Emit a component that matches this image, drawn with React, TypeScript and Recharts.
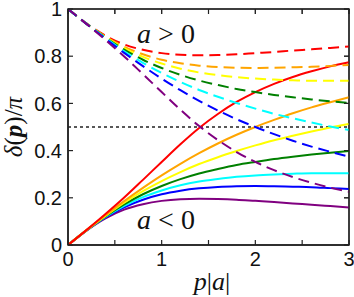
import { LineChart, Line, XAxis, YAxis, ReferenceLine, Customized } from "recharts"

// p|a| sample points
const pa = [0, 0.2, 0.4, 0.6, 0.8, 1.0, 1.2, 1.4, 1.6, 1.8, 2.0, 2.2, 2.4, 2.6, 2.8, 3.0]

// a < 0 (solid)
const solidRed = [0, 0.064, 0.131, 0.201, 0.276, 0.352, 0.427, 0.496, 0.555, 0.606, 0.648, 0.683, 0.712, 0.736, 0.757, 0.774]
const solidOrange = [0, 0.064, 0.126, 0.186, 0.242, 0.295, 0.344, 0.389, 0.43, 0.467, 0.5, 0.53, 0.558, 0.583, 0.605, 0.626]
const solidYellow = [0, 0.063, 0.123, 0.179, 0.228, 0.271, 0.309, 0.343, 0.372, 0.398, 0.422, 0.444, 0.463, 0.481, 0.498, 0.513]
const solidGreen = [0, 0.063, 0.121, 0.172, 0.215, 0.25, 0.279, 0.303, 0.322, 0.339, 0.352, 0.364, 0.374, 0.383, 0.391, 0.398]
const solidCyan = [0, 0.063, 0.119, 0.166, 0.203, 0.231, 0.253, 0.269, 0.28, 0.289, 0.295, 0.299, 0.302, 0.304, 0.304, 0.304]
const solidBlue = [0, 0.062, 0.117, 0.16, 0.192, 0.215, 0.23, 0.24, 0.246, 0.249, 0.25, 0.249, 0.247, 0.245, 0.241, 0.237]
const solidPurple = [0, 0.062, 0.113, 0.15, 0.173, 0.187, 0.194, 0.196, 0.195, 0.192, 0.187, 0.182, 0.176, 0.171, 0.165, 0.159]

// a > 0 (dashed)
const dashRed = [1, 0.938, 0.887, 0.85, 0.827, 0.813, 0.806, 0.804, 0.805, 0.808, 0.813, 0.818, 0.824, 0.829, 0.835, 0.841]
const dashOrange = [1, 0.938, 0.883, 0.84, 0.808, 0.785, 0.77, 0.76, 0.754, 0.751, 0.75, 0.751, 0.753, 0.755, 0.759, 0.763]
const dashYellow = [1, 0.937, 0.881, 0.834, 0.797, 0.769, 0.747, 0.731, 0.72, 0.711, 0.705, 0.701, 0.698, 0.696, 0.696, 0.696]
const dashGreen = [1, 0.937, 0.879, 0.828, 0.785, 0.75, 0.721, 0.697, 0.678, 0.661, 0.648, 0.636, 0.626, 0.617, 0.609, 0.602]
const dashCyan = [1, 0.937, 0.877, 0.821, 0.772, 0.729, 0.691, 0.657, 0.628, 0.602, 0.578, 0.556, 0.537, 0.519, 0.502, 0.487]
const dashBlue = [1, 0.936, 0.874, 0.814, 0.758, 0.705, 0.656, 0.611, 0.57, 0.533, 0.5, 0.47, 0.442, 0.417, 0.395, 0.374]
const dashPurple = [1, 0.936, 0.869, 0.799, 0.724, 0.648, 0.573, 0.504, 0.445, 0.394, 0.352, 0.317, 0.288, 0.264, 0.243, 0.226]

const xTicks = [0, 0.5, 1, 1.5, 2, 2.5, 3]
const yTicks = [0, 0.2, 0.4, 0.6, 0.8, 1]

const colors = ["#ff0000", "#ffa500", "#ffff00", "#008000", "#00ffff", "#0000ff", "#800080"]
const solids = [solidRed, solidOrange, solidYellow, solidGreen, solidCyan, solidBlue, solidPurple]
const dashes = [dashRed, dashOrange, dashYellow, dashGreen, dashCyan, dashBlue, dashPurple]

const data = pa.map((x, i) => {
  const row: Record<string, number> = { x }
  solids.forEach((s, k) => (row["s" + k] = s[i]))
  dashes.forEach((s, k) => (row["d" + k] = s[i]))
  return row
})

const axisColor = "#222"
const tickFont = { fill: "#111", fontSize: 20, fontFamily: "Liberation Sans, Arial, sans-serif" }
const tickLine = { stroke: axisColor, strokeWidth: 1.2 }
const serif = "Liberation Serif, Times New Roman, serif"
const NoLabel = () => <g />

// plot box (from the chart margins and axis sizes below)
const box = { left: 68, top: 9, right: 349, bottom: 245 }

function Frame() {
  const w = box.right - box.left
  const h = box.bottom - box.top
  return (
    <g stroke={axisColor} fill="none">
      <rect x={box.left} y={box.top} width={w} height={h} strokeWidth={1.5} />
      {xTicks.map((t) => {
        const px = box.left + (t / 3) * w
        return <line key={"tx" + t} x1={px} x2={px} y1={box.top} y2={box.top + 5} strokeWidth={1.2} />
      })}
      {yTicks.map((t) => {
        const py = box.bottom - t * h
        return <line key={"ty" + t} x1={box.right} x2={box.right - 5} y1={py} y2={py} strokeWidth={1.2} />
      })}
    </g>
  )
}

function Labels() {
  return (
    <g>
      <Frame />
      <g fontFamily={serif} fill="#111">
        <text transform="translate(22,127) rotate(-90)" textAnchor="middle" fontSize={25}>
          <tspan fontStyle="italic">δ</tspan>
          <tspan>(</tspan>
          <tspan fontStyle="italic" fontWeight="bold">p</tspan>
          <tspan>)/</tspan>
          <tspan fontStyle="italic">π</tspan>
        </text>
        <text x={212} y={290} textAnchor="middle" fontSize={26}>
          <tspan fontStyle="italic">p</tspan>
          <tspan>|</tspan>
          <tspan fontStyle="italic">a</tspan>
          <tspan>|</tspan>
        </text>
        <text x={166} y={43} textAnchor="middle" fontSize={28}>
          <tspan fontStyle="italic">a</tspan>
          <tspan> &gt; 0</tspan>
        </text>
        <text x={166} y={229} textAnchor="middle" fontSize={28}>
          <tspan fontStyle="italic">a</tspan>
          <tspan> &lt; 0</tspan>
        </text>
      </g>
    </g>
  )
}

export default function App() {
  return (
    <div style={{ position: "absolute", left: 0, top: 0 }}>
      <LineChart width={354} height={297} data={data} margin={{ top: -21, right: -35, bottom: 0, left: 0 }}>
        <XAxis
          type="number"
          dataKey="x"
          domain={[0, 3]}
          ticks={xTicks}
          interval={0}
          height={52}
          stroke={axisColor}
          strokeWidth={1.5}
          tickSize={-5}
          tickMargin={12}
          tickLine={tickLine}
          tick={tickFont}
          tickFormatter={(v) => (Number.isInteger(v) ? String(v) : "")}
        />
        <XAxis
          xAxisId="top"
          orientation="top"
          type="number"
          dataKey="x"
          domain={[0, 3]}
          ticks={xTicks}
          interval={0}
          height={30}
          stroke={axisColor}
          tickSize={-5}
          tick={NoLabel}
        />
        <YAxis
          type="number"
          domain={[0, 1]}
          ticks={yTicks}
          interval={0}
          width={68}
          stroke={axisColor}
          strokeWidth={1.5}
          tickSize={-5}
          tickMargin={11}
          tickLine={tickLine}
          tick={tickFont}
          tickFormatter={(v) => String(v)}
        />
        <YAxis
          yAxisId="right"
          orientation="right"
          type="number"
          domain={[0, 1]}
          ticks={yTicks}
          interval={0}
          width={40}
          stroke={axisColor}
          tickSize={-5}
          tick={NoLabel}
        />
        <ReferenceLine y={0.5} stroke="#222" strokeWidth={1.3} strokeDasharray="3 3" />
        {solids
          .map((_, k) => (
            <Line
              key={"s" + k}
              type="monotone"
              dataKey={"s" + k}
              stroke={colors[k]}
              strokeWidth={2}
              dot={false}
              isAnimationActive={false}
            />
          ))
          .reverse()}
        {dashes.map((_, k) => (
          <Line
            key={"d" + k}
            xAxisId="top"
            yAxisId="right"
            type="monotone"
            dataKey={"d" + k}
            stroke={colors[k]}
            strokeWidth={2}
            strokeDasharray="11 6"
            dot={false}
            isAnimationActive={false}
          />
        ))}
        <Customized component={Labels} />
      </LineChart>
    </div>
  )
}
